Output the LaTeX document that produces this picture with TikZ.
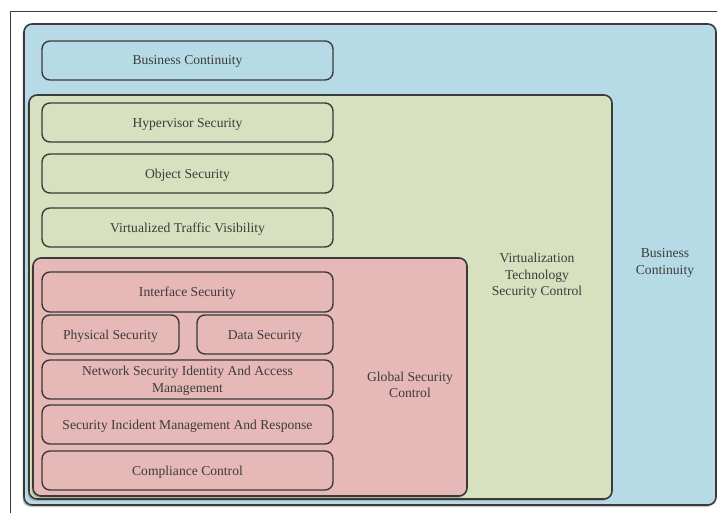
\documentclass[tikz,border=0pt]{standalone}
\usepackage{fontspec}
\setmainfont{Liberation Serif}
\usetikzlibrary{shadows}
\definecolor{bcblue}{RGB}{183,219,230}
\definecolor{vtgreen}{RGB}{215,225,191}
\definecolor{gsred}{RGB}{230,184,182}
\definecolor{edge}{RGB}{58,58,58}
\definecolor{ink}{RGB}{60,60,60}
\tikzset{
  panel/.style={draw=edge, line width=1.6pt, rounded corners=8pt,
    drop shadow={shadow xshift=-1.5pt, shadow yshift=-2pt, opacity=0.45}},
  item/.style={draw=edge, line width=1.4pt, rounded corners=8pt, inner sep=0pt,
    text=ink, align=center, text depth=0pt, font=\fontsize{13.6}{16.5}\selectfont},
  caption/.style={text=ink, align=center, inner sep=0pt,
    font=\fontsize{13.6}{16.5}\selectfont},
}
\begin{document}
\begin{tikzpicture}[x=1pt,y=-1pt]
\useasboundingbox (0,0) rectangle (717,513);
\fill[white] (0,0) rectangle (717,513);
% page frame
\draw[edge, line width=1pt] (717,12) -- (10,12) -- (10,513);

% outer panel: business continuity
\path[panel, fill=bcblue] (24,24) rectangle (716,505);
\node[caption] (bclabel) at (665,263) {Business\\Continuity};
\node[item, fill=bcblue, minimum width=291pt, minimum height=39pt]
  (bc) at (187.5,60.5) {Business Continuity};

% virtualization technology panel
\path[panel, fill=vtgreen] (29,95) rectangle (612,499);
\node[caption] (vtlabel) at (537,276) {Virtualization\\Technology\\Security Control};
\node[item, fill=vtgreen, minimum width=291pt, minimum height=39pt]
  (hyp) at (187.5,122.5) {Hypervisor Security};
\node[item, fill=vtgreen, minimum width=291pt, minimum height=39pt]
  (obj) at (187.5,173.5) {Object Security};
\node[item, fill=vtgreen, minimum width=291pt, minimum height=39pt]
  (vtv) at (187.5,227.5) {Virtualized Traffic Visibility};

% global security panel
\path[panel, fill=gsred] (33,258) rectangle (467,496);
\node[caption] (gslabel) at (410,385) {Global Security\\Control};
\node[item, fill=gsred, minimum width=291pt, minimum height=40pt]
  (ifs) at (187.5,292) {Interface Security};
\node[item, fill=gsred, minimum width=137pt, minimum height=39pt]
  (phy) at (110.5,334.5) {Physical Security};
\node[item, fill=gsred, minimum width=136pt, minimum height=39pt]
  (dat) at (265,334.5) {Data Security};
\node[item, fill=gsred, minimum width=291pt, minimum height=39pt]
  (net) at (187.5,379.5) {Network Security Identity And Access\\Management};
\node[item, fill=gsred, minimum width=291pt, minimum height=39pt]
  (inc) at (187.5,424.5) {Security Incident Management And Response};
\node[item, fill=gsred, minimum width=291pt, minimum height=39pt]
  (cmp) at (187.5,470.5) {Compliance Control};
\end{tikzpicture}
\end{document}
